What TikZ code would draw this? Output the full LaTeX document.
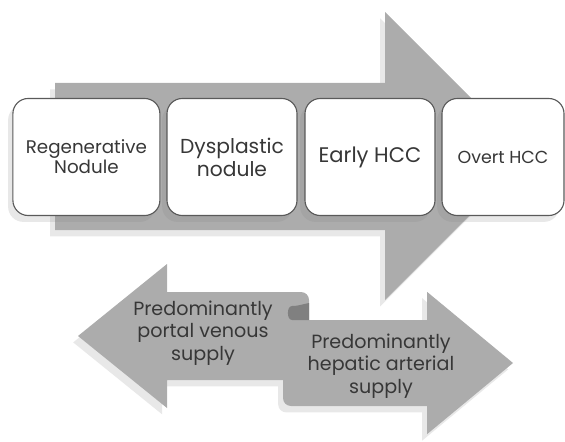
\documentclass[tikz,border=0pt]{standalone}
\usepackage{fontspec}
\setmainfont{Poppins}
\usetikzlibrary{shadows}

\definecolor{arrowgray}{RGB}{172,172,172}
\definecolor{curlgray}{RGB}{128,128,128}
\definecolor{edgegray}{RGB}{90,90,90}
\definecolor{textgray}{RGB}{55,55,55}

\begin{document}
\begin{tikzpicture}[line width=0.8pt,
  softshadow/.style={drop shadow={shadow xshift=-0.12cm, shadow yshift=-0.16cm, opacity=0.18}},
  stage/.style={draw=edgegray, fill=white, rounded corners=0.38cm, minimum height=2.925cm,
    align=center, text=textgray, softshadow},
  supply/.style={align=center, text=textgray, font=\fontsize{13.6}{16.2}\selectfont}]

  \useasboundingbox (0,0) rectangle (14.125,11.025);

  % ---------- big progression arrow ----------
  \fill[arrowgray, softshadow] (1.375,5.275) -- (1.375,8.95) -- (9.625,8.95) -- (9.625,10.725)
    -- (13.225,7.125) -- (9.625,3.525) -- (9.625,5.275) -- cycle;

  % ---------- stages ----------
  \node[stage, minimum width=3.675cm, font=\fontsize{13}{13}\selectfont] (rn) at (2.16,7.1) {Regenerative\\Nodule};
  \node[stage, minimum width=3.25cm, font=\fontsize{14.4}{16.4}\selectfont] (dn) at (5.8,7.1) {Dysplastic\\nodule};
  \node[stage, minimum width=3.25cm, font=\fontsize{15}{16.5}\selectfont] (ehcc) at (9.25,7.1) {Early HCC};
  \node[stage, minimum width=3.05cm, font=\fontsize{12.4}{14}\selectfont] (ohcc) at (12.575,7.1) {Overt HCC};

  % ---------- blood supply double arrow ----------
  \fill[arrowgray, softshadow] (1.95,2.625) -- (4.175,4.425) -- (4.175,3.725)
    -- (7.525,3.725) arc[start angle=90, end angle=0, radius=0.2] -- (7.725,3.025)
    -- (10.675,3.025) -- (10.675,3.73) -- (12.825,1.95) -- (10.675,0.17) -- (10.675,0.875)
    -- (7.275,0.875) arc[start angle=270, end angle=180, radius=0.2] -- (7.075,1.525)
    -- (4.175,1.525) -- (4.175,0.825) -- cycle;
  \fill[curlgray] (7.725,3.025) -- (7.3,3.025) to[out=180, in=180] (7.3,3.375)
    to[out=0, in=190] (7.725,3.45) -- cycle;   % folded ribbon

  \node[supply] (pv) at (5.075,2.7) {Predominantly\\portal venous\\supply};
  \node[supply] (ha) at (9.525,1.875) {Predominantly\\hepatic arterial\\supply};

\end{tikzpicture}
\end{document}
